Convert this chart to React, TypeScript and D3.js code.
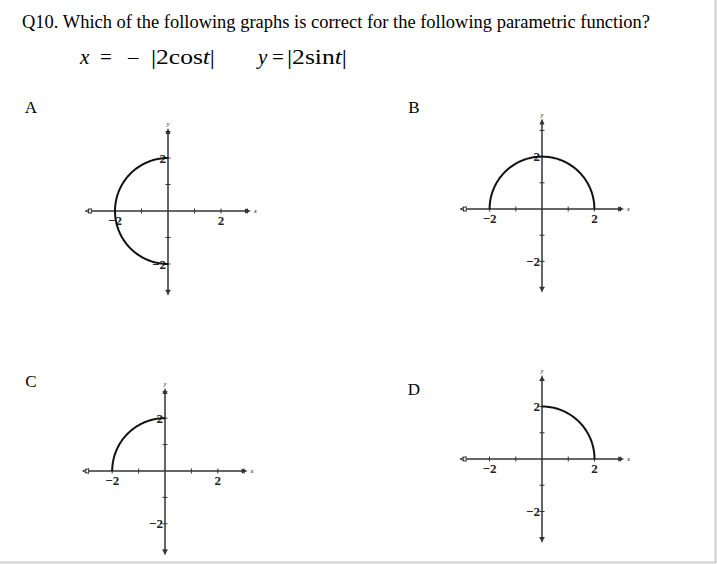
import React from 'react';
import * as d3 from 'd3';

// question text
const title = 'Q10. Which of the following graphs is correct for the following parametric function?';
const panelNames = ['A', 'B', 'C', 'D'];

// arc of the circle r = 2 drawn in each panel, in degrees (start, end)
const arcStart = [90, 0, 90, 0];
const arcEnd = [270, 180, 180, 90];
const radius = 2;

// axis ticks and labels
const tickValues = [-3, -2, -1, 1, 2, 3];
const labelValues = [-2, 2];

const W = 717;
const H = 564;
const SERIF = '"Liberation Serif", "Times New Roman", serif';

// panel layout: origin in page pixels, unit size, axis extents
const layout = [
  { ox: 168, oy: 211, unit: 26.5, yTop: 3.13, lx: 31, ly: 107 },
  { ox: 542, oy: 209, unit: 26.2, yTop: 3.45, lx: 414, ly: 107 },
  { ox: 165, oy: 471, unit: 26.4, yTop: 3.14, lx: 31, ly: 381 },
  { ox: 542, oy: 459, unit: 26.25, yTop: 3.2, lx: 414, ly: 389 },
];

const fmt = (v: number) => (v < 0 ? '\u2212' + Math.abs(v) : String(v));

const Panel = ({ i }: { i: number }) => {
  const L = layout[i];
  const xMin = -3.12, xMax = 3.13, yMin = -3.2;
  const x = d3.scaleLinear().domain([0, 1]).range([L.ox, L.ox + L.unit]);
  const y = d3.scaleLinear().domain([0, 1]).range([L.oy, L.oy - L.unit]);

  const ts = d3.range(arcStart[i], arcEnd[i] + 0.5, 1);
  const line = d3.line<number>()
    .x(t => x(radius * Math.cos((t * Math.PI) / 180)))
    .y(t => y(radius * Math.sin((t * Math.PI) / 180)));

  const axisCol = '#333';
  const x0 = x(xMin), x1 = x(xMax), y0 = y(L.yTop), y1 = y(yMin);
  const ay = y(0), ax = x(0);

  return (
    <g>
      <text x={L.lx} y={L.ly} textAnchor="middle" dominantBaseline="central"
        fontFamily={SERIF} fontSize={17}>{panelNames[i]}</text>
      {/* x axis */}
      <line x1={x0 + 3} x2={x1 - 3} y1={ay} y2={ay} stroke={axisCol} strokeWidth={1.5} />
      <path d={`M${x0},${ay} L${x0 + 6},${ay - 2.5} L${x0 + 6},${ay + 2.5} Z`} fill="#fff" stroke={axisCol} strokeWidth={1} />
      <path d={`M${x1},${ay} L${x1 - 6},${ay - 2.5} L${x1 - 6},${ay + 2.5} Z`} fill={axisCol} />
      <text x={x1 + 3} y={ay + 2} fontSize={6} fontFamily={SERIF} fontStyle="italic">x</text>
      {/* y axis */}
      <line x1={ax} x2={ax} y1={y0 + 3} y2={y1 - 3} stroke={axisCol} strokeWidth={1.5} />
      <path d={`M${ax},${y0} L${ax - 2.5},${y0 + 6} L${ax + 2.5},${y0 + 6} Z`} fill={axisCol} />
      <path d={`M${ax},${y1} L${ax - 2.5},${y1 - 6} L${ax + 2.5},${y1 - 6} Z`} fill={axisCol} />
      <text x={ax} y={y0 - 2} textAnchor="middle" fontSize={6} fontFamily={SERIF} fontStyle="italic">y</text>
      {tickValues.filter(v => v > xMin && v < xMax).map(v => (
        <line key={'tx' + v} x1={x(v)} x2={x(v)} y1={ay - 2.5} y2={ay + 2.5} stroke={axisCol} strokeWidth={1} />
      ))}
      {tickValues.filter(v => v > yMin && v < L.yTop).map(v => (
        <line key={'ty' + v} x1={ax - 2.5} x2={ax + 2.5} y1={y(v)} y2={y(v)} stroke={axisCol} strokeWidth={1} />
      ))}
      {labelValues.map(v => (
        <text key={'lx' + v} x={x(v)} y={ay + 14} textAnchor="middle"
          fontFamily={SERIF} fontSize={13} fontWeight="bold" fill="#222">{fmt(v)}</text>
      ))}
      {labelValues.map(v => (
        <text key={'ly' + v} x={ax - 2} y={y(v) + 4.5} textAnchor="end"
          fontFamily={SERIF} fontSize={13} fontWeight="bold" fill="#222">{fmt(v)}</text>
      ))}
      <path d={line(ts) || ''} fill="none" stroke="#111" strokeWidth={2} />
    </g>
  );
};

export default function App() {
  const eq = { fontFamily: SERIF, fontSize: 21 };
  return (
    <svg width={W} height={H} style={{ position: 'absolute', left: 0, top: 0, background: '#fff' }}>
      <rect x={0} y={0} width={W} height={H} fill="#fff" />
      <line x1={715.5} x2={715.5} y1={0} y2={563} stroke="#cfcfcf" strokeWidth={2} />
      <line x1={0} x2={716} y1={562.5} y2={562.5} stroke="#cfcfcf" strokeWidth={2} />
      <text x={22} y={28} fontFamily={SERIF} fontSize={18.5} textLength={628} lengthAdjust="spacingAndGlyphs">{title}</text>
      {/* x = -|2cos t| */}
      <text x={80} y={64} {...eq} fontStyle="italic">x</text>
      <text x={100} y={64} {...eq}>=</text>
      <text x={128} y={64} {...eq}>{'\u2013'}</text>
      <text x={151} y={64} {...eq} textLength={64} lengthAdjust="spacingAndGlyphs">
        |2cos<tspan fontStyle="italic">t</tspan>|
      </text>
      {/* y = |2sin t| */}
      <text x={258} y={64} {...eq} fontStyle="italic">y</text>
      <text x={272} y={64} {...eq}>=</text>
      <text x={287} y={64} {...eq} textLength={60} lengthAdjust="spacingAndGlyphs">
        |2sin<tspan fontStyle="italic">t</tspan>|
      </text>
      {panelNames.map((_, i) => <Panel key={i} i={i} />)}
    </svg>
  );
}
